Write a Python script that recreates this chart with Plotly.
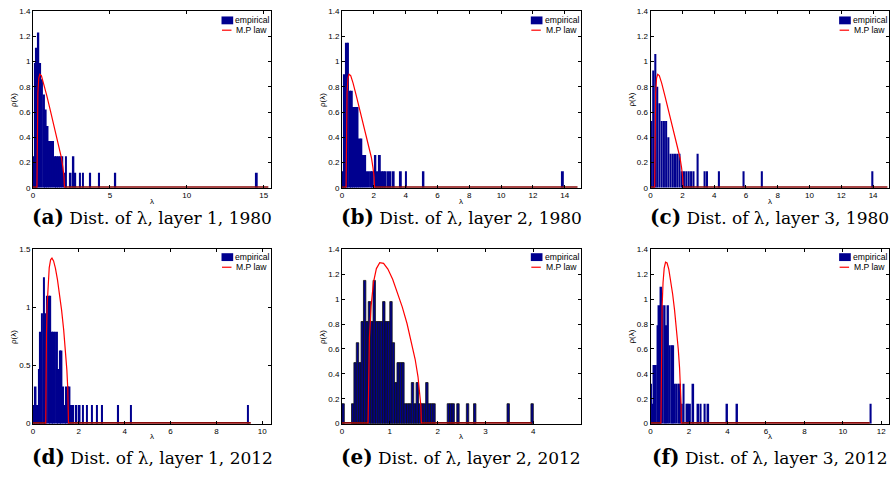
import plotly.graph_objects as go

W, H = 893, 477

# ---------------- data ----------------
# empirical histograms: bin centres and normalised densities
a_x = [0.03, 0.13, 0.24, 0.35, 0.47, 0.59, 0.71, 0.83, 0.95, 1.07, 1.19, 1.31, 1.43, 1.55, 1.67, 1.79,
       1.91, 2.03, 2.15, 2.45, 2.63, 2.75, 3.05, 3.25, 3.72, 4.3, 5.35, 14.55]
a_y = [0.25, 0.99, 1.11, 1.23, 0.99, 0.86, 0.74, 0.62, 0.49, 0.37, 0.37, 0.37, 0.25, 0.25, 0.25, 0.25,
       0.25, 0.12, 0.25, 0.12, 0.25, 0.12, 0.12, 0.12, 0.12, 0.12, 0.12, 0.12]

b_x = [0.06, 0.18, 0.3, 0.38, 0.5, 0.62, 0.74, 0.86, 0.98, 1.1, 1.22, 1.34, 1.46, 1.58, 1.7, 1.82,
       1.94, 2.1, 2.22, 2.38, 2.5, 2.62, 2.75, 2.9, 3.05, 3.25, 3.7, 4.02, 5.12, 13.88]
b_y = [0.13, 0.9, 1.15, 1.15, 0.77, 0.77, 0.64, 0.64, 0.64, 0.39, 0.39, 0.26, 0.26, 0.13, 0.13, 0.13,
       0.13, 0.26, 0.13, 0.26, 0.13, 0.13, 0.13, 0.13, 0.13, 0.13, 0.13, 0.13, 0.13, 0.13]

c_x = [0.05, 0.17, 0.3, 0.42, 0.56, 0.7, 0.84, 0.98, 1.12, 1.26, 1.4, 1.54, 1.68, 1.82, 1.96, 2.1,
       2.25, 2.4, 2.55, 2.7, 2.96, 3.4, 3.55, 4.3, 5.85, 7.0, 13.95]
c_y = [0.53, 0.93, 1.06, 0.8, 0.67, 0.53, 0.53, 0.53, 0.4, 0.27, 0.27, 0.27, 0.27, 0.27, 0.13, 0.13,
       0.13, 0.13, 0.13, 0.13, 0.27, 0.13, 0.13, 0.13, 0.13, 0.13, 0.13]

d_x = [0.04, 0.12, 0.19, 0.26, 0.33, 0.4, 0.48, 0.55, 0.62, 0.69, 0.76, 0.83, 0.9, 0.97, 1.04, 1.11,
       1.18, 1.25, 1.32, 1.39, 1.46, 1.53, 1.6, 1.67, 1.76, 1.9, 2.04, 2.18, 2.36, 2.58, 2.8, 3.02,
       3.72, 4.27, 9.38]
d_y = [0.16, 0.32, 0.16, 0.47, 0.79, 0.95, 1.26, 0.95, 1.1, 1.1, 1.1, 0.79, 0.79, 0.79, 0.79, 0.47,
       0.63, 0.63, 0.32, 0.16, 0.32, 0.32, 0.32, 0.16, 0.16, 0.16, 0.16, 0.16, 0.16, 0.16, 0.16, 0.16,
       0.16, 0.16, 0.16]

e_x = [0.025, 0.225, 0.275, 0.325, 0.375, 0.425, 0.475, 0.525, 0.575, 0.625, 0.675, 0.725, 0.775,
       0.825, 0.875, 0.925, 0.975, 1.025, 1.075, 1.125, 1.175, 1.225, 1.275, 1.325, 1.375, 1.425,
       1.475, 1.525, 1.575, 1.625, 1.675, 1.725, 1.775, 1.825, 1.875, 1.925, 2.225, 2.275, 2.325,
       2.425, 2.625, 2.775, 3.475, 3.975]
e_y = [0.16, 0.16, 0.49, 0.65, 0.49, 0.82, 1.15, 0.82, 0.98, 0.82, 1.15, 0.82, 0.82,
       0.82, 0.98, 0.82, 0.82, 0.98, 0.65, 0.33, 0.49, 0.49, 0.49, 0.16, 0.16, 0.16,
       0.33, 0.16, 0.33, 0.16, 0.16, 0.16, 0.33, 0.16, 0.16, 0.16, 0.16, 0.16, 0.16,
       0.16, 0.16, 0.16, 0.16, 0.16]

f_x = [0.03, 0.1, 0.19, 0.28, 0.37, 0.46, 0.55, 0.64, 0.73, 0.82, 0.91, 1.0, 1.09, 1.18, 1.27, 1.36,
       1.45, 1.54, 1.63, 1.72, 1.88, 1.96, 2.05, 2.22, 2.48, 2.6, 2.82, 3.0, 3.98, 4.5, 11.45]
f_y = [0.32, 0.16, 0.47, 0.47, 0.79, 0.95, 1.1, 0.95, 0.95, 0.79, 0.95, 0.63, 0.63, 0.63, 0.32, 0.32,
       0.32, 0.32, 0.16, 0.32, 0.16, 0.16, 0.16, 0.32, 0.16, 0.16, 0.16, 0.16, 0.16, 0.16, 0.16]

bin_width = {"a": 0.12, "b": 0.12, "c": 0.13, "d": 0.07, "e": 0.05, "f": 0.09}

# Marchenko-Pastur curves
mp80_x = [0.26, 0.28, 0.32, 0.38, 0.45, 0.55, 0.7, 0.9, 1.1, 1.3, 1.5, 1.7, 1.85, 1.95, 2.02, 2.05]
mp80_y = [0, 0.50, 0.75, 0.87, 0.90, 0.89, 0.83, 0.73, 0.63, 0.53, 0.43, 0.33, 0.24, 0.16, 0.085, 0]

mpd_x = [0.56, 0.57, 0.59, 0.62, 0.66, 0.71, 0.77, 0.83, 0.9, 0.98, 1.07, 1.16, 1.25, 1.34, 1.42,
         1.48, 1.52, 1.54, 1.55]
mpd_y = [0, 0.465, 0.771, 1.021, 1.211, 1.34, 1.409, 1.424, 1.4, 1.338, 1.239, 1.118, 0.976, 0.809,
         0.631, 0.46, 0.299, 0.172, 0]

mpe_x = [0.545, 0.555, 0.575, 0.61, 0.66, 0.72, 0.79, 0.87, 0.96, 1.06, 1.16, 1.26, 1.36, 1.45,
         1.53, 1.59, 1.63, 1.65, 1.66]
mpe_y = [0, 0.419, 0.693, 0.946, 1.136, 1.245, 1.292, 1.287, 1.241, 1.159, 1.056, 0.938, 0.804,
         0.664, 0.517, 0.376, 0.245, 0.141, 0]

mpf_x = [0.54, 0.55, 0.57, 0.6, 0.65, 0.71, 0.78, 0.86, 0.95, 1.05, 1.15, 1.25, 1.35, 1.44, 1.51,
         1.56, 1.59, 1.6]
mpf_y = [0, 0.425, 0.703, 0.931, 1.134, 1.249, 1.297, 1.29, 1.239, 1.15, 1.039, 0.909, 0.76, 0.601,
         0.446, 0.295, 0.147, 0]

# extent of the plotted M.P curve (it is zero outside its support)
mp_end = {"a": 15.3, "b": 14.8, "c": 14.9, "d": 9.5, "e": 3.97, "f": 11.4}

captions = {"a": ("(a)", "Dist. of λ, layer 1, 1980"),
            "b": ("(b)", "Dist. of λ, layer 2, 1980"),
            "c": ("(c)", "Dist. of λ, layer 3, 1980"),
            "d": ("(d)", "Dist. of λ, layer 1, 2012"),
            "e": ("(e)", "Dist. of λ, layer 2, 2012"),
            "f": ("(f)", "Dist. of λ, layer 3, 2012")}

x_ranges = {"a": 15.5, "b": 15.0, "c": 15.0, "d": 10.4, "e": 4.99, "f": 12.4}
x_ticks = {"a": [0, 5, 10, 15], "b": [0, 2, 4, 6, 8, 10, 12, 14], "c": [0, 2, 4, 6, 8, 10, 12, 14],
           "d": [0, 2, 4, 6, 8, 10], "e": [0, 1, 2, 3, 4], "f": [0, 2, 4, 6, 8, 10, 12]}
y_ranges = {"a": 1.4, "b": 1.4, "c": 1.4, "d": 1.5, "e": 1.4, "f": 1.4}
y_dticks = {"a": 0.2, "b": 0.2, "c": 0.2, "d": 0.5, "e": 0.2, "f": 0.2}

# ---------------- layout geometry (pixels) ----------------
cols = [(31, 270), (340.7, 580), (650, 889)]
rows = [(7.3, 187.3), (250, 427.7)]
panel_pos = {"a": (0, 0), "b": (0, 1), "c": (0, 2), "d": (1, 0), "e": (1, 1), "f": (1, 2)}

hist = {"a": (a_x, a_y), "b": (b_x, b_y), "c": (c_x, c_y),
        "d": (d_x, d_y), "e": (e_x, e_y), "f": (f_x, f_y)}
curves = {"a": (mp80_x, mp80_y), "b": (mp80_x, mp80_y), "c": (mp80_x, mp80_y),
          "d": (mpd_x, mpd_y), "e": (mpe_x, mpe_y), "f": (mpf_x, mpf_y)}

NAVY = "#00008F"
fig = go.Figure()
layout = dict(width=W, height=H, margin=dict(l=0, r=0, t=0, b=0),
              paper_bgcolor="white", plot_bgcolor="white", showlegend=False)
annotations = []
shapes = []

tickfont = dict(family="Liberation Sans, Arial", size=8, color="black")

for i, key in enumerate(["a", "b", "c", "d", "e", "f"]):
    n = "" if i == 0 else str(i + 1)
    xa, ya = "x" + n, "y" + n
    r, c = panel_pos[key]
    x0p, x1p = cols[c]
    y0p, y1p = rows[r]
    hx, hy = hist[key]
    lw = 0.8 if key == "e" else 0
    fig.add_trace(go.Bar(x=hx, y=hy, width=bin_width[key], xaxis=xa, yaxis=ya,
                         marker=dict(color=NAVY, line=dict(width=lw, color="#111111"))))
    cx, cy = curves[key]
    # zero part of the M.P curve, outside its support
    fig.add_trace(go.Scatter(x=[0, cx[0], None, cx[-1], mp_end[key]], y=[0, 0, None, 0, 0],
                             mode="lines", line=dict(color="#8B0A0A", width=3.2),
                             xaxis=xa, yaxis=ya, hoverinfo="skip"))
    fig.add_trace(go.Scatter(x=cx, y=cy, mode="lines", line=dict(color="#FF0000", width=1.2),
                             xaxis=xa, yaxis=ya))

    axis_common = dict(showline=True, linecolor="black", linewidth=1, mirror="ticks",
                       ticks="inside", ticklen=3, tickwidth=0.8, tickcolor="black",
                       showgrid=False, zeroline=False, tickfont=tickfont, fixedrange=True)
    layout["xaxis" + n] = dict(axis_common, domain=[x0p / W, x1p / W], anchor=ya,
                               range=[0, x_ranges[key]], tickmode="array",
                               tickvals=x_ticks[key], ticktext=[str(v) for v in x_ticks[key]])
    layout["yaxis" + n] = dict(axis_common, domain=[1 - y1p / H, 1 - y0p / H], anchor=xa,
                               range=[0, y_ranges[key]], dtick=y_dticks[key], tick0=0)

    pw, ph = x1p - x0p, y1p - y0p
    # axis titles
    xt_off = 14.0 if r == 0 else 12.8
    annotations.append(dict(text="λ", xref=xa + " domain", yref="paper", x=0.5,
                            y=1 - (y1p + xt_off) / H, showarrow=False,
                            font=dict(family="Liberation Sans, Arial", size=8, color="black"),
                            xanchor="center", yanchor="middle"))
    annotations.append(dict(text="ρ(λ)", xref="paper", yref=ya + " domain",
                            x=(x0p - 19.5) / W, y=0.5, textangle=-90, showarrow=False,
                            font=dict(family="Liberation Sans, Arial", size=8, color="black"),
                            xanchor="center", yanchor="middle"))
    # legend (drawn per panel)
    if r == 0:
        bt, bb, t1, ln = 5.4, 13.4, 9.4, 19.4
    else:
        bt, bb, t1, ln = 4.0, 12.0, 8.0, 18.3
    shapes.append(dict(type="rect", xref=xa + " domain", yref=ya + " domain",
                       x0=1 - 50 / pw, x1=1 - 38.3 / pw, y0=1 - bb / ph, y1=1 - bt / ph,
                       fillcolor=NAVY, line=dict(width=0)))
    shapes.append(dict(type="line", xref=xa + " domain", yref=ya + " domain",
                       x0=1 - 49.5 / pw, x1=1 - 40 / pw, y0=1 - ln / ph, y1=1 - ln / ph,
                       line=dict(color="#FF0000", width=1.2)))
    legfont = dict(family="Liberation Sans, Arial", size=8.6, color="black")
    annotations.append(dict(text="empirical", xref=xa + " domain", yref=ya + " domain",
                            x=1 - 38 / pw, y=1 - t1 / ph, xanchor="left", yanchor="middle",
                            showarrow=False, font=legfont))
    annotations.append(dict(text="M.P law", xref=xa + " domain", yref=ya + " domain",
                            x=1 - 37 / pw, y=1 - ln / ph, xanchor="left", yanchor="middle",
                            showarrow=False, font=legfont))
    # caption
    lab, txt = captions[key]
    cap_y = 217 if r == 0 else 462
    annotations.append(dict(text='<b><span style="font-size:20px">' + lab + '</span></b> ' + txt,
                            xref="paper", yref="paper", x=(x0p + x1p) / 2 / W, y=1 - cap_y / H,
                            xanchor="center", yanchor="middle", showarrow=False,
                            font=dict(family="DejaVu Serif", size=17, color="black")))

layout["annotations"] = annotations
layout["shapes"] = shapes
layout["barmode"] = "overlay"
fig.update_layout(**layout)
fig.write_html("out.html", config={"displayModeBar": False},
               post_script="document.body.style.margin='0';document.body.style.padding='0';"
                           "document.body.style.overflow='hidden';")
